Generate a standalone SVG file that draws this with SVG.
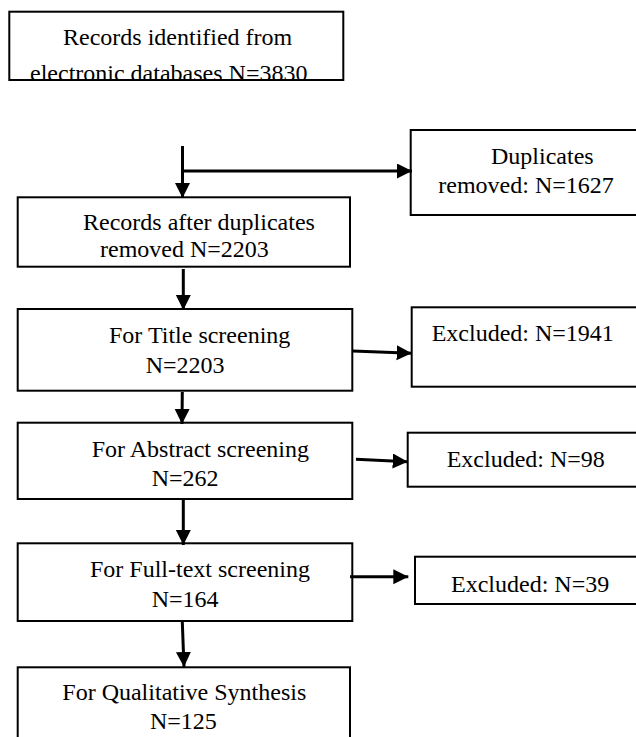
<svg xmlns="http://www.w3.org/2000/svg" width="636" height="737" viewBox="0 0 636 737">
<style>
.box{fill:#fff;stroke:#000;stroke-width:2}
.t{font-family:"Liberation Serif","Times New Roman",serif;font-size:24px;fill:#000}
.c{fill:none;stroke:#000;stroke-width:3}
</style>
<defs>
<marker id="ah" markerUnits="userSpaceOnUse" markerWidth="16" markerHeight="16" refX="15" refY="7.5" orient="auto">
<path d="M0,0 L15,7.5 L0,15 z" fill="#000"/>
</marker>
<clipPath id="clipTop"><rect x="10.3" y="12.7" width="332" height="66.3"/></clipPath>
</defs>
<rect width="636" height="737" fill="#fff"/>
<g id="n-identified">
<rect class="box" x="9.3" y="11.7" width="334" height="68.3"/>
<g clip-path="url(#clipTop)">
<text class="t" x="63" y="45">Records identified from</text>
<text class="t" x="30" y="81">electronic databases N=3830</text>
</g>
</g>
<g id="n-duplicates">
<rect class="box" x="410.7" y="130" width="240" height="85"/>
<text class="t" x="491" y="164.3">Duplicates</text>
<text class="t" x="438.3" y="193.3">removed: N=1627</text>
</g>
<g id="n-records">
<rect class="box" x="17.7" y="197.3" width="332.3" height="69.4"/>
<text class="t" x="83" y="230">Records after duplicates</text>
<text class="t" x="100" y="256.7">removed N=2203</text>
</g>
<g id="n-title">
<rect class="box" x="17.7" y="309" width="334.6" height="81.7"/>
<text class="t" x="109" y="342.7">For Title screening</text>
<text class="t" x="145.7" y="372.7">N=2203</text>
</g>
<g id="n-excl1941">
<rect class="box" x="411.7" y="307.3" width="240" height="79.4"/>
<text class="t" x="431.7" y="340.7">Excluded: N=1941</text>
</g>
<g id="n-abstract">
<rect class="box" x="17.7" y="422.7" width="334.6" height="76.3"/>
<text class="t" x="91.7" y="456.7">For Abstract screening</text>
<text class="t" x="151.7" y="486">N=262</text>
</g>
<g id="n-excl98">
<rect class="box" x="407.7" y="432.7" width="240" height="54"/>
<text class="t" x="446.7" y="466.7">Excluded: N=98</text>
</g>
<g id="n-fulltext">
<rect class="box" x="17.7" y="543.3" width="334.6" height="77.7"/>
<text class="t" x="90" y="576.7">For Full-text screening</text>
<text class="t" x="151.7" y="606.7">N=164</text>
</g>
<g id="n-excl39">
<rect class="box" x="415" y="556.7" width="240" height="47.3"/>
<text class="t" x="451" y="591.7">Excluded: N=39</text>
</g>
<g id="n-qualitative">
<rect class="box" x="17.7" y="667.3" width="332.3" height="100"/>
<text class="t" x="62.3" y="700">For Qualitative Synthesis</text>
<text class="t" x="150" y="729">N=125</text>
</g>
<g id="connectors">
<line class="c" x1="182.5" y1="146" x2="182.5" y2="198" marker-end="url(#ah)"/>
<line class="c" x1="182.5" y1="171" x2="412" y2="171" marker-end="url(#ah)"/>
<line class="c" x1="183.3" y1="269" x2="183.3" y2="310" marker-end="url(#ah)"/>
<line class="c" x1="352.7" y1="351" x2="411.7" y2="353.3" marker-end="url(#ah)"/>
<line class="c" x1="182.3" y1="392" x2="182" y2="424" marker-end="url(#ah)"/>
<line class="c" x1="356" y1="459.3" x2="407.7" y2="461.7" marker-end="url(#ah)"/>
<line class="c" x1="183.3" y1="500" x2="183.3" y2="545" marker-end="url(#ah)"/>
<line class="c" x1="350" y1="576.7" x2="408.3" y2="576.7" marker-end="url(#ah)"/>
<line class="c" x1="182.3" y1="622" x2="184" y2="667" marker-end="url(#ah)"/>
</g>
</svg>
